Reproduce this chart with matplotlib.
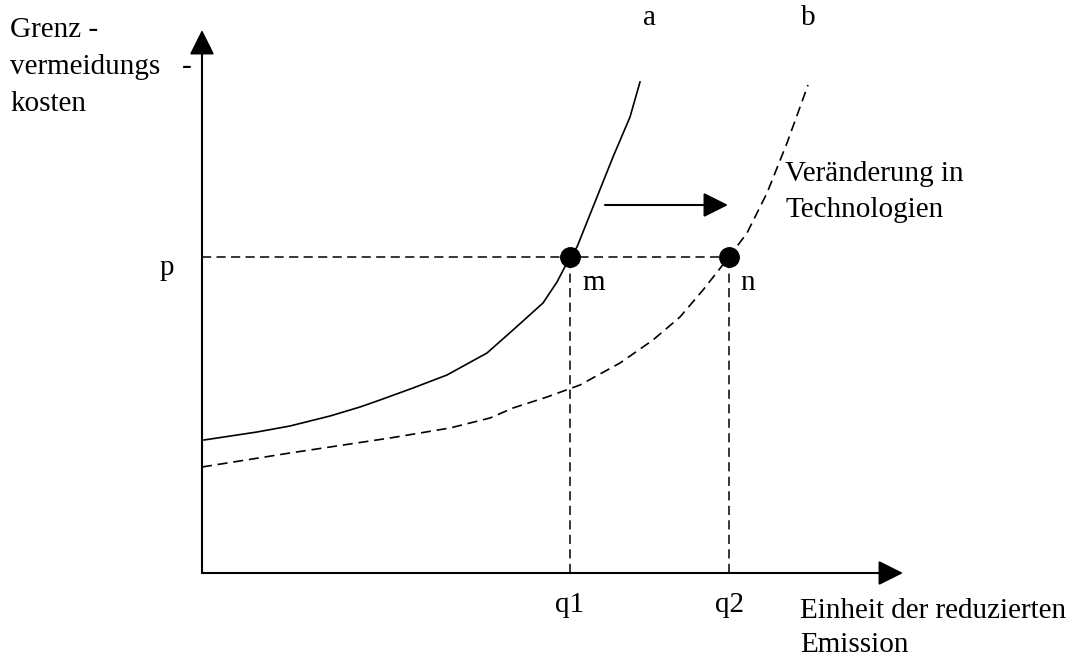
import numpy as np
import matplotlib.pyplot as plt

plt.rcParams['font.family'] = ['Liberation Serif', 'DejaVu Serif']

# curve a (solid) and curve b (dashed), origin = axes corner
a_x = [2, 55, 88, 128, 158, 178, 211, 245, 285, 311, 341, 355, 368, 375, 391, 411, 428, 438]
a_y = [133, 141, 147, 157, 166, 173, 185, 198, 220, 243, 270, 291, 316, 326, 366, 416, 456, 491]
b_x = [0, 88, 188, 248, 288, 311, 345, 378, 418, 451, 478, 501, 527, 545, 565, 585, 606]
b_y = [106, 120, 135, 145, 155, 165, 176, 188, 210, 233, 256, 283, 316, 340, 380, 430, 488]

p = 316
q1 = 368
q2 = 527
points = ['m', 'n']

fig = plt.figure(figsize=(10.74, 6.57), dpi=100)
ax = fig.add_axes([0, 0, 1, 1])
ax.set_xlim(-202, 872)
ax.set_ylim(-84, 573)
ax.axis('off')

fs = 21
arrow = dict(arrowstyle='-|>', lw=1.5, color='black', mutation_scale=38,
             shrinkA=0, shrinkB=0)

# axes with arrows
ax.annotate('', xy=(0, 543), xytext=(0, 0), arrowprops=arrow)
ax.annotate('', xy=(701, 0), xytext=(0, 0), arrowprops=arrow)

ax.plot(a_x, a_y, color='black', lw=1.2)
ax.plot(b_x, b_y, color='black', lw=1.2, dashes=(6, 3.5))

# guide lines
ax.plot([0, q2], [p, p], color='black', lw=1.1, dashes=(6, 3.5))
ax.plot([q1, q1], [0, p], color='black', lw=1.1, dashes=(6, 3.5))
ax.plot([q2, q2], [0, p], color='black', lw=1.1, dashes=(6, 3.5))
ax.plot([q1, q2], [p, p], 'o', color='black', ms=14)

# shift arrow
ax.annotate('', xy=(526, 368), xytext=(403, 368), arrowprops=arrow)

ax.text(448, 555, 'a', fontsize=fs, ha='center', va='center')
ax.text(606, 555, 'b', fontsize=fs, ha='center', va='center')
ax.text(-35, 305, 'p', fontsize=fs, ha='center', va='center')
ax.text(q1 + 12, 290, points[0], fontsize=fs, ha='left', va='center')
ax.text(q2 + 11, 290, points[1], fontsize=fs, ha='left', va='center')
ax.text(q1, -32, 'q1', fontsize=fs, ha='center', va='center')
ax.text(q2, -32, 'q2', fontsize=fs, ha='center', va='center')
ax.text(583, 381, 'Veränderung in\nTechnologien', fontsize=fs, ha='left', va='center',
        linespacing=1.5)
ax.text(598, -55, 'Einheit der reduzierten\nEmission', fontsize=fs, ha='left', va='center',
        linespacing=1.45)
ax.text(-192, 506, 'Grenz -\nvermeidungs   -\nkosten', fontsize=fs, ha='left', va='center',
        linespacing=1.55)

fig.savefig('out.png', dpi=100)
